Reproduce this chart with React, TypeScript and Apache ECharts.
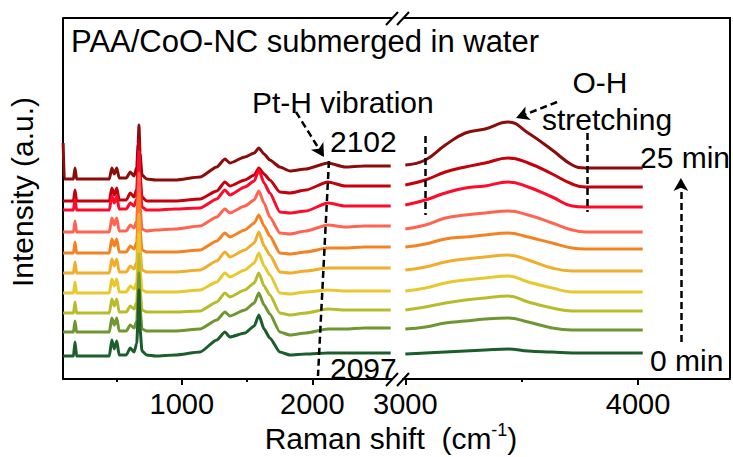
import React, { useEffect, useRef } from 'react';
import * as echarts from 'echarts';

const FONT = '"Liberation Sans", Arial, Helvetica, sans-serif';

// Raman shift sample points (cm-1)
const xLeft = [91, 100, 170, 182, 194, 300, 445, 464, 483, 502, 520, 575, 605, 635, 655, 665, 672, 680, 695, 730, 800, 950, 1140, 1268, 1330, 1368, 1483, 1555, 1590, 1630, 1674, 1751, 1828, 1950, 2119, 2250, 2400, 2600];
const xRight = [3000, 3086, 3172, 3258, 3343, 3442, 3528, 3631, 3717, 3773, 3900, 4020];

// stacked spectra (a.u., offset for display), top (25 min) to bottom (0 min)
const curve1Left = [236, 200, 200, 211, 200, 200, 200, 211, 205, 211, 201, 201, 207, 203, 212, 235, 254, 226, 204, 200, 199, 199, 202, 212, 220, 216, 222, 226, 231, 225, 219, 212, 208, 210, 216, 212, 213, 213];
const curve2Left = [178, 178, 178, 189, 178, 178, 178, 191, 184, 191, 179, 179, 186, 182, 190, 215, 238, 205, 182, 178, 178, 178, 180, 188, 197, 193, 199, 204, 211, 205, 199, 187, 186, 189, 197, 193, 193, 193];
const curve3Left = [169, 169, 169, 180, 169, 169, 169, 183, 176, 183, 170, 170, 176, 173, 180, 205, 228, 195, 172, 169, 169, 170, 171, 180, 189, 184, 192, 198, 209, 196, 186, 167, 166, 168, 176, 173, 173, 173];
const curve4Left = [147, 147, 147, 158, 147, 147, 147, 161, 154, 161, 148, 148, 154, 151, 158, 183, 206, 172, 150, 148, 149, 150, 153, 162, 170, 166, 173, 179, 188, 176, 162, 146, 145, 148, 154, 152, 153, 153];
const curve5Left = [126, 126, 126, 137, 126, 126, 126, 140, 133, 140, 127, 127, 133, 130, 137, 162, 185, 150, 129, 127, 127, 127, 129, 138, 146, 142, 149, 156, 164, 153, 143, 126, 125, 127, 131, 131, 132, 132];
const curve6Left = [106, 106, 106, 117, 106, 106, 106, 120, 113, 120, 107, 107, 113, 110, 117, 142, 165, 130, 109, 107, 107, 107, 109, 118, 127, 122, 129, 136, 147, 133, 124, 107, 106, 108, 111, 111, 111, 111];
const curve7Left = [86, 86, 86, 97, 86, 86, 86, 100, 93, 100, 87, 87, 93, 90, 97, 122, 145, 110, 89, 87, 87, 87, 89, 97, 106, 102, 109, 116, 126, 113, 104, 86, 85, 87, 89, 88, 88, 88];
const curve8Left = [66, 66, 66, 77, 66, 66, 66, 80, 73, 80, 67, 67, 73, 70, 77, 102, 125, 90, 69, 67, 67, 67, 68, 77, 86, 82, 89, 96, 106, 93, 84, 66, 64, 66, 70, 69, 69, 69];
const curve9Left = [47, 47, 47, 58, 47, 47, 47, 61, 54, 61, 48, 48, 54, 51, 58, 83, 106, 71, 50, 48, 48, 48, 50, 59, 67, 63, 69, 76, 86, 74, 65, 47, 44, 46, 50, 50, 51, 51];
const curve10Left = [23, 23, 23, 37, 23, 23, 23, 39, 30, 38, 24, 24, 31, 27, 36, 60, 89, 50, 28, 24, 23, 24, 27, 39, 47, 42, 46, 53, 64, 50, 41, 27, 24, 25, 26, 26, 26, 26];

const curve1Right = [214, 219, 234, 246, 250, 257, 246, 229, 214, 211, 211, 211];
const curve2Right = [194, 199, 207, 212, 216, 221, 216, 205, 195, 192, 192, 192];
const curve3Right = [174, 179, 186, 191, 193, 197, 192, 182, 173, 172, 172, 172];
const curve4Right = [150, 154, 161, 164, 166, 168, 164, 156, 149, 147, 147, 147];
const curve5Right = [132, 135, 140, 142, 144, 146, 142, 136, 131, 130, 130, 130];
const curve6Right = [109, 112, 117, 120, 122, 124, 119, 111, 108, 108, 108, 108];
const curve7Right = [88, 91, 96, 99, 101, 103, 97, 91, 87, 87, 87, 87];
const curve8Right = [69, 72, 76, 79, 81, 83, 77, 71, 68, 68, 68, 68];
const curve9Right = [50, 52, 56, 58, 60, 61, 57, 51, 49, 49, 49, 49];
const curve10Right = [25, 26, 27, 28, 29, 30, 28, 27, 26, 26, 26, 26];

const leftCurves = [curve1Left, curve2Left, curve3Left, curve4Left, curve5Left, curve6Left, curve7Left, curve8Left, curve9Left, curve10Left];
const rightCurves = [curve1Right, curve2Right, curve3Right, curve4Right, curve5Right, curve6Right, curve7Right, curve8Right, curve9Right, curve10Right];
const curveNames = ['25 min', 't9', 't8', 't7', 't6', 't5', 't4', 't3', 't2', '0 min'];
const colors = ['#8c0c0c', '#c4000b', '#ff0a2a', '#ff6450', '#f58220', '#f0ae2c', '#e8c82e', '#b8bc2c', '#6f9630', '#1b5e2c'];

// tick values
const leftMajorTicks = [1000, 2000];
const leftMinorTicks = [500, 1500];
const rightMajorTicks = [3000, 4000];
const rightMinorTicks = [3500];

// annotation guides (data coordinates)
const ptHArrow = [[1875, 267], [2089, 222]];
const ptHGuide = [[2127, 218], [2043, 3]];
const ohArrow = [[3652, 277], [3476, 261]];
const ohGuideLow = [[3085, 243], [3085, 164]];
const ohGuideHigh = [[3781, 246], [3781, 167]];
const timeArrow = [[4184, 37], [4184, 201]];

const zip = (xs: number[], ys: number[]) => xs.map((x, i) => [x, ys[i]]);

const seg = (pts: number[][], arrow: boolean) => [
  { coord: pts[0], symbol: 'none' },
  { coord: pts[1], symbol: arrow ? 'arrow' : 'none' },
];

const markLineBase = {
  silent: true,
  animation: false,
  symbolSize: [11, 13],
  label: { show: false },
  emphasis: { disabled: true },
  lineStyle: { color: '#000', width: 2.5, type: [7, 4] },
  itemStyle: { color: '#000' },
};

const axisBlack = { color: '#000', width: 2 };

function majorAxis(gridIndex: number, min: number, max: number, ticks: number[]) {
  return {
    gridIndex,
    type: 'value',
    min,
    max,
    position: 'bottom',
    axisLine: { show: true, onZero: false, lineStyle: axisBlack },
    axisTick: { show: true, inside: false, length: 6, customValues: ticks, lineStyle: axisBlack },
    axisLabel: {
      show: true,
      customValues: ticks,
      color: '#000',
      fontSize: 29,
      fontFamily: FONT,
      margin: 10,
      formatter: (v: number) => String(v),
    },
    splitLine: { show: false },
  };
}
function minorAxis(gridIndex: number, min: number, max: number, ticks: number[]) {
  return {
    gridIndex,
    type: 'value',
    min,
    max,
    position: 'bottom',
    axisLine: { show: false, onZero: false },
    axisTick: { show: true, inside: false, length: 3, customValues: ticks, lineStyle: axisBlack },
    axisLabel: { show: false },
    splitLine: { show: false },
  };
}

const text = (t: string, x: number, y: number, size = 30, align = 'left') => ({
  type: 'text',
  x,
  y,
  silent: true,
  style: {
    text: t,
    fontSize: size,
    fontFamily: FONT,
    fill: '#000',
    align,
    textAlign: align,
    verticalAlign: 'middle',
    textVerticalAlign: 'middle',
  },
});

const lineEl = (x1: number, y1: number, x2: number, y2: number) => ({
  type: 'line',
  silent: true,
  shape: { x1, y1, x2, y2 },
  style: { stroke: '#000', lineWidth: 2 },
});

function buildOption() {
  const series: any[] = [];
  leftCurves.forEach((c, i) => {
    const s: any = {
      type: 'line',
      name: curveNames[i],
      xAxisIndex: 0,
      yAxisIndex: 0,
      data: zip(xLeft, c),
      showSymbol: false,
      symbol: 'none',
      silent: true,
      smooth: 0.2,
      smoothMonotone: 'x',
      lineStyle: { color: colors[i], width: 3 },
      itemStyle: { color: colors[i] },
    };
    if (i === 0) {
      s.markLine = { ...markLineBase, data: [seg(ptHArrow, true), seg(ptHGuide, false)] };
    }
    series.push(s);
  });
  rightCurves.forEach((c, i) => {
    const s: any = {
      type: 'line',
      name: curveNames[i] + ' ',
      xAxisIndex: 2,
      yAxisIndex: 1,
      data: zip(xRight, c),
      showSymbol: false,
      symbol: 'none',
      silent: true,
      smooth: 0.45,
      lineStyle: { color: colors[i], width: 3 },
      itemStyle: { color: colors[i] },
    };
    if (i === 0) {
      s.markLine = {
        ...markLineBase,
        data: [seg(ohArrow, true), seg(ohGuideLow, false), seg(ohGuideHigh, false), seg(timeArrow, true)],
      };
    }
    series.push(s);
  });

  return {
    animation: false,
    backgroundColor: '#fff',
    grid: [
      { left: 63, top: 18, width: 329, height: 361, outerBoundsMode: 'none', containLabel: false },
      { left: 403, top: 18, width: 327, height: 361, outerBoundsMode: 'none', containLabel: false },
    ],
    xAxis: [
      majorAxis(0, 90, 2610, leftMajorTicks),
      minorAxis(0, 90, 2610, leftMinorTicks),
      majorAxis(1, 2990, 4395, rightMajorTicks),
      minorAxis(1, 2990, 4395, rightMinorTicks),
    ],
    yAxis: [
      {
        gridIndex: 0,
        type: 'value',
        min: 0,
        max: 361,
        axisLine: { show: true, onZero: false, lineStyle: axisBlack },
        axisTick: { show: false },
        axisLabel: { show: false },
        splitLine: { show: false },
      },
      { gridIndex: 1, type: 'value', min: 0, max: 361, show: false, splitLine: { show: false } },
    ],
    series,
    graphic: [
      // frame top / right
      lineEl(63, 18, 392, 18),
      lineEl(403, 18, 730, 18),
      lineEl(730, 17, 730, 379),
      // axis break marks
      lineEl(386, 25, 398, 12),
      lineEl(397, 25, 409, 12),
      lineEl(386, 386, 398, 373),
      lineEl(397, 386, 409, 373),
      text('PAA/CoO-NC submerged in water', 71, 41, 31),
      text('Pt-H vibration', 252, 102),
      text('2102', 330, 141),
      text('2097', 330, 368),
      text('O-H', 600, 82, 30, 'center'),
      text('stretching', 542, 119),
      text('25 min', 640, 157),
      text('0 min', 650, 360),
      {
        type: 'text',
        x: 22,
        y: 192,
        rotation: Math.PI / 2,
        silent: true,
        style: {
          text: 'Intensity (a.u.)',
          fontSize: 30,
          fontFamily: FONT,
          fill: '#000',
          align: 'center',
          textAlign: 'center',
          verticalAlign: 'middle',
          textVerticalAlign: 'middle',
        },
      },
      {
        type: 'text',
        x: 391,
        y: 438,
        silent: true,
        style: {
          text: '{n|Raman shift  (cm}{s|-1}{n|)}',
          fontSize: 30,
          fontFamily: FONT,
          fill: '#000',
          align: 'center',
          textAlign: 'center',
          verticalAlign: 'middle',
          textVerticalAlign: 'middle',
          rich: {
            n: { fontSize: 30, fontFamily: FONT, fill: '#000', color: '#000', lineHeight: 34 },
            s: { fontSize: 18, fontFamily: FONT, fill: '#000', color: '#000', lineHeight: 20, verticalAlign: 'top' },
          },
        },
      },
    ],
  };
}

export default function App() {
  const ref = useRef<HTMLDivElement>(null);
  useEffect(() => {
    if (!ref.current) return;
    const chart = echarts.init(ref.current, null, { renderer: 'svg' });
    chart.setOption(buildOption() as any);
    return () => {
      chart.dispose();
    };
  }, []);
  return (
    <div
      ref={ref}
      style={{ position: 'absolute', left: 0, top: 0, width: 733, height: 457, background: '#fff' }}
    />
  );
}
